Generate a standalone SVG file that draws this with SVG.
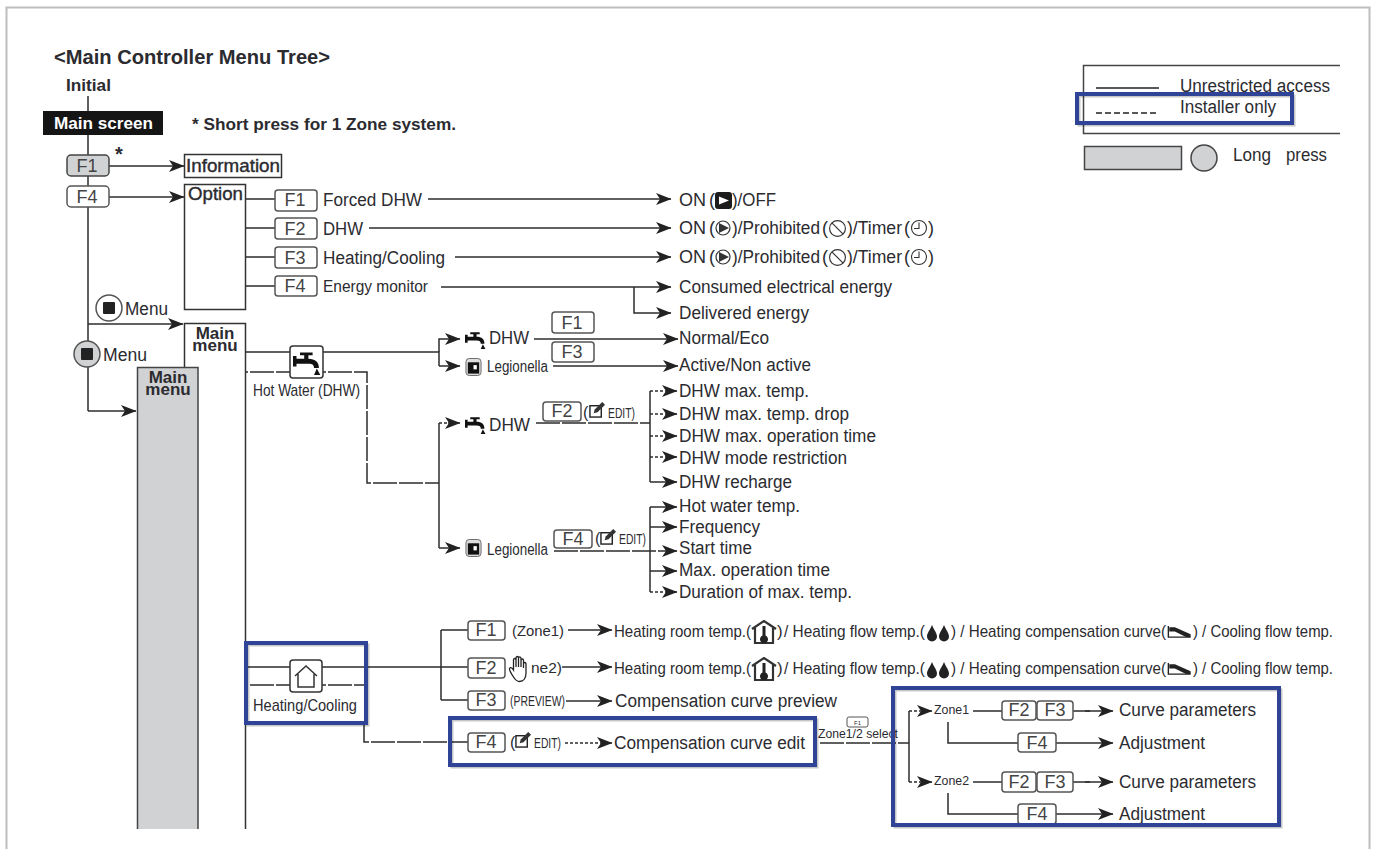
<svg xmlns="http://www.w3.org/2000/svg" width="1373" height="849" viewBox="0 0 1373 849">
<style>
text{font-family:"Liberation Sans",Arial,sans-serif;fill:#2b2b30;font-size:18px}
.b{font-weight:bold}
.n{font-size:16px}
.k{font-size:18px;text-anchor:middle;fill:#444}
.l{fill:none;stroke:#2c2c2c;stroke-width:1.500}
.a{marker-end:url(#arr)}
.d{stroke-dasharray:24 2}
.o{stroke-dasharray:3 2}
.btn{fill:#fff;stroke:#555;stroke-width:1.500}
.box{fill:#fff;stroke:#333;stroke-width:1.500}
.grey{fill:#d1d2d4;stroke:#444;stroke-width:1.500}
.blue{fill:none;stroke:#2f4496;stroke-width:4}
.sh{fill:none;stroke:#000;stroke-opacity:.22;stroke-width:3}
</style>
<defs>
<marker id="arr" markerUnits="userSpaceOnUse" markerWidth="17" markerHeight="13" viewBox="0 0 17 13" refX="16" refY="6.500" orient="auto"><path d="M1 .5L16.500 6.500L1 12.500L5 6.500Z" fill="#222"/></marker>
<symbol id="faucet" viewBox="0 0 20 17"><path d="M0 3.500h2.500v2H8V3H5V1h9v2h-3v2.500c5 0 7.500 2.500 7.500 6.500h-3.500c0-2-1-3-4-3H2.500v2H0Z M17 12.500l2.500 4.500h-4.500Z" fill="#111"/></symbol>
<symbol id="tank" viewBox="0 0 18 20"><rect x="1" y="1" width="16" height="18" rx="3.500" fill="#ddd" stroke="#666"/><path d="M3 5h12v12H3Z" fill="#111"/><path d="M9 8h3.500v4.500H9Z" fill="#fff"/></symbol>
<symbol id="edit" viewBox="0 0 18 18"><rect x="1" y="5" width="12" height="12" fill="#fff" stroke="#222" stroke-width="1.500"/><path d="M5 13l1-4 8-8 3 3-8 8Z" fill="#333"/></symbol>
<symbol id="play" viewBox="0 0 16 16"><circle cx="8" cy="8" r="7" fill="#fff" stroke="#333" stroke-width="1.200"/><path d="M4 3L14 8L4 13Z" fill="#333"/></symbol>
<symbol id="ban" viewBox="0 0 18 18"><circle cx="9" cy="9" r="7.500" fill="#fff" stroke="#333" stroke-width="1.100"/><path d="M3.700 3.700L14.300 14.300" stroke="#333" stroke-width="1.100"/></symbol>
<symbol id="clock" viewBox="0 0 18 18"><circle cx="9" cy="9" r="7.500" fill="#fff" stroke="#333" stroke-width="1.100"/><path d="M9 3.500V9.500H4" fill="none" stroke="#333" stroke-width="1.100"/></symbol>
<symbol id="thermo" viewBox="0 0 26 24"><path d="M1 9L13 1L25 9M4 8V23H22V8" fill="none" stroke="#333" stroke-width="2.200"/><path d="M11.500 6h3v9.500a4 4 0 1 1-3 0Z" fill="#222"/></symbol>
<symbol id="drops" viewBox="0 0 24 18"><path d="M6 1C8 6 11 9 11 12.500A5 5 0 0 1 1 12.500C1 9 4 6 6 1Z M18 1C20 6 23 9 23 12.500A5 5 0 0 1 13 12.500C13 9 16 6 18 1Z" fill="#222"/></symbol>
<symbol id="curve" viewBox="0 0 26 14"><path d="M1 1V13H25" fill="none" stroke="#222" stroke-width="1.500"/><path d="M2 2.500H8L25 10V13H20L8 7H2Z" fill="#222"/></symbol>
<symbol id="hand" viewBox="0 0 22 28"><path d="M5 22C3 19 1 16 1 14S3 12 5 15V5C5 3 7.500 3 7.500 5V12V3C7.500 1 10 1 10 3V12V3C10 1.500 12.500 1.500 12.500 3.500V12V5.500C12.500 3.500 15 3.500 15 5.500V13V9C15 7 17.500 7 17.500 9V18C17.500 23 15 26.500 11 26.500C8 26.500 6.500 24.500 5 22Z" fill="#fff" stroke="#222" stroke-width="1.300"/></symbol>
</defs>
<rect width="1373" height="849" fill="#fff"/>
<path d="M6.500 849V7.500H1369.500V849" fill="none" stroke="#bdbdbd" stroke-width="2"/>

<g id="connectors">
<path class="l" d="M88 96V411"/>
<path class="l a" d="M109 166H184"/>
<path class="l a" d="M109 197H184"/>
<path class="l a" d="M88 324H183"/>
<path class="l a" d="M88 411H136"/>
<path class="l" d="M246 199H275M246 228H275M246 257H275M246 286H275"/>
<path class="l a" d="M428 199H671"/>
<path class="l a" d="M369 228H671"/>
<path class="l a" d="M455 257H671"/>
<path class="l a" d="M441 287H671"/>
<path class="l a" d="M634 287V313H671"/>
<path class="l" d="M246 352H439V366"/>
<path class="l a" d="M439 352V339H460"/>
<path class="l a" d="M439 366H460"/>
<path class="l a" d="M534 339H678"/>
<path class="l a" d="M553 366H678"/>
<path class="l d" d="M198 372H367V483H439"/>
<path class="l" d="M439 423V548"/>
<path class="l o" d="M439 423H448"/>
<path class="l a" d="M448 423H460"/>
<path class="l a" d="M439 548H460"/>
<path class="l d" d="M536 423H650"/>
<path class="l" d="M650 391V482"/>
<path class="l o a" d="M650 391H677"/>
<path class="l o a" d="M650 414H677"/>
<path class="l o a" d="M650 436H677"/>
<path class="l o a" d="M650 457H677"/>
<path class="l a" d="M650 482H677"/>
<path class="l d a" d="M554 551H677"/>
<path class="l" d="M650 507V592"/>
<path class="l a" d="M650 507H677"/>
<path class="l a" d="M650 527H677"/>
<path class="l a" d="M650 571H677"/>
<path class="l o a" d="M650 592H677"/>
<path class="l" d="M246 667H468M441 630V700M441 630H468M441 700H468"/>
<path class="l d" d="M198 685H366"/>
<path class="l d" d="M364 723V742H468"/>
<path class="l a" d="M568 630H612"/>
<path class="l a" d="M562 667H612"/>
<path class="l a" d="M566 701H612"/>
<path class="l o a" d="M565 743H612"/>
<path class="l d" d="M820 743H909"/>
<path class="l" d="M909 711V782"/>
<path class="l o a" d="M909 711H932"/>
<path class="l o a" d="M909 782H932"/>
<path class="l" d="M973 711H1002M1073 711H1090"/>
<path class="l a" d="M1085 711H1113"/>
<path class="l" d="M948 722V743H1018"/>
<path class="l a" d="M1056 743H1113"/>
<path class="l" d="M973 782H1002M1073 782H1090"/>
<path class="l a" d="M1085 782H1113"/>
<path class="l" d="M948 793V814H1018"/>
<path class="l a" d="M1056 814H1113"/>
</g>

<g id="title"><text class="b" x="54" y="64" style="font-size:20px" textLength="276" lengthAdjust="spacingAndGlyphs">&lt;Main Controller Menu Tree&gt;</text></g>
<g id="initial"><text class="b" x="66" y="91" style="font-size:17px" textLength="45" lengthAdjust="spacingAndGlyphs">Initial</text></g>
<g id="main-screen"><rect x="43" y="111" width="120" height="24" fill="#151515"/><text class="b" x="54" y="129" style="fill:#fff;font-size:17px" textLength="99" lengthAdjust="spacingAndGlyphs">Main screen</text></g>
<g id="short-note"><text class="b" x="192" y="130" style="font-size:17px" textLength="264" lengthAdjust="spacingAndGlyphs">* Short press for 1 Zone system.</text></g>
<g id="star"><text class="b" x="115" y="161" style="font-size:20px">*</text></g>
<g id="btn-main-f1"><rect class="grey" x="67" y="155" width="42" height="21" rx="4"/><text class="k" x="87" y="172">F1</text></g>
<g id="btn-main-f4"><rect class="btn" x="67" y="186" width="42" height="21" rx="4"/><text class="k" x="87" y="203">F4</text></g>
<g id="information"><rect class="box" x="184.500" y="154.500" width="97" height="23"/><text x="186" y="172" style="font-size:19px" textLength="94" lengthAdjust="spacingAndGlyphs" stroke="#2b2b30" stroke-width=".4">Information</text></g>
<g id="option"><rect class="box" x="184.500" y="184.500" width="61" height="125"/><text x="188" y="200" style="font-size:18px" textLength="55" lengthAdjust="spacingAndGlyphs" stroke="#2b2b30" stroke-width=".4">Option</text></g>

<g id="opt-f1"><rect class="btn" x="275" y="190" width="42" height="21" rx="3"/><text class="k" x="295" y="206">F1</text><text x="323" y="206" textLength="99" lengthAdjust="spacingAndGlyphs">Forced DHW</text></g>
<g id="opt-f2"><rect class="btn" x="275" y="218" width="42" height="21" rx="3"/><text class="k" x="295" y="235">F2</text><text x="323" y="235" textLength="40" lengthAdjust="spacingAndGlyphs">DHW</text></g>
<g id="opt-f3"><rect class="btn" x="275" y="247" width="42" height="21" rx="3"/><text class="k" x="295" y="264">F3</text><text x="323" y="264" textLength="122" lengthAdjust="spacingAndGlyphs">Heating/Cooling</text></g>
<g id="opt-f4"><rect class="btn" x="275" y="276" width="42" height="20" rx="3"/><text class="k" x="295" y="292">F4</text><text x="323" y="292" style="font-size:17px" textLength="105" lengthAdjust="spacingAndGlyphs">Energy monitor</text></g>

<g id="res-forced"><text x="679" y="206" textLength="27" lengthAdjust="spacingAndGlyphs">ON</text><text x="709" y="206">(</text><rect x="715" y="192" width="17" height="17" rx="3" fill="#1c1c1c"/><path d="M719 196.500L729 200.500L719 204.500Z" fill="#fff"/><text x="732" y="206" textLength="44" lengthAdjust="spacingAndGlyphs">)/OFF</text></g>
<g id="res-dhw"><text x="679" y="234" textLength="27" lengthAdjust="spacingAndGlyphs">ON</text><text x="709" y="234">(</text><use href="#play" x="715" y="220" width="16" height="16"/><text x="732" y="234" textLength="88" lengthAdjust="spacingAndGlyphs">)/Prohibited</text><text x="822" y="234">(</text><use href="#ban" x="828" y="219" width="19" height="19"/><text x="847" y="234" textLength="55" lengthAdjust="spacingAndGlyphs">)/Timer</text><text x="904" y="234">(</text><use href="#clock" x="910" y="219" width="18" height="18"/><text x="928" y="234">)</text></g>
<g id="res-hc"><text x="679" y="263" textLength="27" lengthAdjust="spacingAndGlyphs">ON</text><text x="709" y="263">(</text><use href="#play" x="715" y="249" width="16" height="16"/><text x="732" y="263" textLength="88" lengthAdjust="spacingAndGlyphs">)/Prohibited</text><text x="822" y="263">(</text><use href="#ban" x="828" y="248" width="19" height="19"/><text x="847" y="263" textLength="55" lengthAdjust="spacingAndGlyphs">)/Timer</text><text x="904" y="263">(</text><use href="#clock" x="910" y="248" width="18" height="18"/><text x="928" y="263">)</text></g>
<g id="res-consumed"><text x="679" y="293" textLength="213" lengthAdjust="spacingAndGlyphs">Consumed electrical energy</text></g>
<g id="res-delivered"><text x="679" y="319" textLength="130" lengthAdjust="spacingAndGlyphs">Delivered energy</text></g>

<g id="menu-1"><circle cx="109" cy="308" r="13" fill="#fff" stroke="#555" stroke-width="1.500"/><rect x="103" y="302" width="12" height="12" rx="1" fill="#222"/><text x="125" y="315" textLength="43" lengthAdjust="spacingAndGlyphs">Menu</text></g>
<g id="main-menu"><path class="box" d="M184.500 829V323.500H245.500V829" fill="none"/><text class="b" x="215" y="339" text-anchor="middle" style="font-size:17px">Main</text><text class="b" x="215" y="351" text-anchor="middle" style="font-size:17px">menu</text></g>
<g id="main-menu-long"><path class="grey" d="M137.500 829V367.500H198V829"/><text class="b" x="168" y="383" text-anchor="middle" style="font-size:17px">Main</text><text class="b" x="168" y="395" text-anchor="middle" style="font-size:17px">menu</text></g>
<g id="menu-2"><circle cx="87" cy="354" r="13" fill="#d1d2d4" stroke="#555" stroke-width="1.500"/><rect x="81" y="348" width="12" height="12" rx="1" fill="#222"/><text x="103" y="361" textLength="44" lengthAdjust="spacingAndGlyphs">Menu</text></g>

<g id="hot-water"><rect class="btn" x="290" y="346" width="33" height="32" rx="3" style="stroke:#333"/><use href="#faucet" x="293" y="351" width="28" height="24"/><text x="253" y="396" style="font-size:17px" textLength="107" lengthAdjust="spacingAndGlyphs">Hot Water (DHW)</text></g>

<g id="dhw-top"><use href="#faucet" x="465" y="331" width="21" height="18"/><text x="489" y="344" textLength="40" lengthAdjust="spacingAndGlyphs">DHW</text></g>
<g id="leg-top"><use href="#tank" x="465" y="357" width="17" height="20"/><text class="n" x="487" y="372" textLength="61" lengthAdjust="spacingAndGlyphs">Legionella</text></g>
<g id="btn-top-f1"><rect class="btn" x="552" y="312" width="42" height="21" rx="3"/><text class="k" x="572" y="329">F1</text></g>
<g id="btn-top-f3"><rect class="btn" x="552" y="342" width="42" height="20" rx="3"/><text class="k" x="572" y="358">F3</text></g>
<g id="res-normal"><text x="679" y="344" textLength="90" lengthAdjust="spacingAndGlyphs">Normal/Eco</text></g>
<g id="res-active"><text x="679" y="371" textLength="132" lengthAdjust="spacingAndGlyphs">Active/Non active</text></g>

<g id="dhw-edit"><use href="#faucet" x="465" y="416" width="21" height="18"/><text x="489" y="431" textLength="41" lengthAdjust="spacingAndGlyphs">DHW</text></g>
<g id="btn-f2-edit"><rect class="btn" x="543" y="402" width="38" height="19" rx="3"/><text class="k" x="562" y="417">F2</text><text class="n" x="583" y="418">(</text><use href="#edit" x="589" y="401" width="17" height="17"/><text x="608" y="418" style="font-size:14px" textLength="27" lengthAdjust="spacingAndGlyphs">EDIT)</text></g>
<g id="dhw-items">
<text x="679" y="397" textLength="130" lengthAdjust="spacingAndGlyphs">DHW max. temp.</text>
<text x="679" y="420" textLength="170" lengthAdjust="spacingAndGlyphs">DHW max. temp. drop</text>
<text x="679" y="442" textLength="197" lengthAdjust="spacingAndGlyphs">DHW max. operation time</text>
<text x="679" y="464" textLength="168" lengthAdjust="spacingAndGlyphs">DHW mode restriction</text>
<text x="679" y="488" textLength="113" lengthAdjust="spacingAndGlyphs">DHW recharge</text>
</g>
<g id="leg-edit"><use href="#tank" x="465" y="538" width="17" height="20"/><text class="n" x="487" y="555" textLength="61" lengthAdjust="spacingAndGlyphs">Legionella</text></g>
<g id="btn-f4-edit"><rect class="btn" x="554" y="530" width="38" height="18" rx="3"/><text class="k" x="573" y="545">F4</text><text class="n" x="595" y="544">(</text><use href="#edit" x="600" y="528" width="17" height="17"/><text x="619" y="544" style="font-size:14px" textLength="27" lengthAdjust="spacingAndGlyphs">EDIT)</text></g>
<g id="leg-items">
<text x="679" y="512" textLength="121" lengthAdjust="spacingAndGlyphs">Hot water temp.</text>
<text x="679" y="533" textLength="81" lengthAdjust="spacingAndGlyphs">Frequency</text>
<text x="679" y="554" textLength="73" lengthAdjust="spacingAndGlyphs">Start time</text>
<text x="679" y="576" textLength="151" lengthAdjust="spacingAndGlyphs">Max. operation time</text>
<text x="679" y="598" textLength="173" lengthAdjust="spacingAndGlyphs">Duration of max. temp.</text>
</g>

<g id="heating-cooling"><rect class="btn" x="290" y="660" width="32" height="32" rx="3" style="stroke:#333"/><path d="M295 676L306 666L317 676M298 674V687H314V674" fill="none" stroke="#333" stroke-width="1.500"/><text x="253" y="711" style="font-size:17px" textLength="104" lengthAdjust="spacingAndGlyphs">Heating/Cooling</text></g>

<g id="hc-f1"><rect class="btn" x="468" y="621" width="37" height="19" rx="3"/><text class="k" x="486" y="636">F1</text><text x="512" y="636" style="font-size:15px" textLength="52" lengthAdjust="spacingAndGlyphs">(Zone1)</text>
<text x="614" y="637" style="font-size:17px" textLength="137" lengthAdjust="spacingAndGlyphs">Heating room temp.(</text><use href="#thermo" x="751" y="620" width="26" height="24"/><text x="777" y="637" style="font-size:17px">)</text><text x="784" y="637" style="font-size:17px" textLength="141" lengthAdjust="spacingAndGlyphs">/ Heating flow temp.(</text><use href="#drops" x="926" y="624" width="24" height="18"/><text x="951" y="637" style="font-size:17px" textLength="215" lengthAdjust="spacingAndGlyphs">) / Heating compensation curve(</text><use href="#curve" x="1167" y="625" width="25" height="13"/><text x="1193" y="637" style="font-size:17px" textLength="140" lengthAdjust="spacingAndGlyphs">) / Cooling flow temp.</text></g>
<g id="hc-f2"><rect class="btn" x="468" y="658" width="37" height="20" rx="3"/><text class="k" x="486" y="674">F2</text><text x="531" y="673" style="font-size:15px" textLength="31" lengthAdjust="spacingAndGlyphs">ne2)</text><use href="#hand" x="508" y="655" width="23" height="28"/>
<text x="614" y="674" style="font-size:17px" textLength="137" lengthAdjust="spacingAndGlyphs">Heating room temp.(</text><use href="#thermo" x="751" y="657" width="26" height="24"/><text x="777" y="674" style="font-size:17px">)</text><text x="784" y="674" style="font-size:17px" textLength="141" lengthAdjust="spacingAndGlyphs">/ Heating flow temp.(</text><use href="#drops" x="926" y="661" width="24" height="18"/><text x="951" y="674" style="font-size:17px" textLength="215" lengthAdjust="spacingAndGlyphs">) / Heating compensation curve(</text><use href="#curve" x="1167" y="662" width="25" height="13"/><text x="1193" y="674" style="font-size:17px" textLength="140" lengthAdjust="spacingAndGlyphs">) / Cooling flow temp.</text></g>
<g id="hc-f3"><rect class="btn" x="468" y="691" width="37" height="19" rx="3"/><text class="k" x="486" y="706">F3</text><text x="510" y="706" style="font-size:14px" textLength="55" lengthAdjust="spacingAndGlyphs">(PREVIEW)</text><text x="615" y="707" textLength="222" lengthAdjust="spacingAndGlyphs">Compensation curve preview</text></g>
<g id="hc-f4"><rect class="btn" x="468" y="733" width="37" height="19" rx="3"/><text class="k" x="486" y="748">F4</text><text class="n" x="510" y="748">(</text><use href="#edit" x="515" y="731" width="17" height="17"/><text x="534" y="748" style="font-size:14px" textLength="27" lengthAdjust="spacingAndGlyphs">EDIT)</text><text x="614" y="749" textLength="191" lengthAdjust="spacingAndGlyphs">Compensation curve edit</text></g>

<g id="zone-select"><rect class="btn" x="847" y="717" width="21" height="10" rx="2" style="stroke-width:1"/><text x="857.500" y="725" text-anchor="middle" style="font-size:6px">F1</text><text x="818" y="738" style="font-size:12px" textLength="80" lengthAdjust="spacingAndGlyphs">Zone1/2 select</text></g>

<g id="zone1"><text x="934" y="714" style="font-size:12px" textLength="35" lengthAdjust="spacingAndGlyphs">Zone1</text><rect class="btn" x="1002" y="701" width="34" height="19" rx="3"/><text class="k" x="1019" y="716">F2</text><rect class="btn" x="1037" y="701" width="36" height="19" rx="3"/><text class="k" x="1055" y="716">F3</text><text x="1119" y="716" textLength="137" lengthAdjust="spacingAndGlyphs">Curve parameters</text><rect class="btn" x="1018" y="733" width="38" height="19" rx="3"/><text class="k" x="1037" y="749">F4</text><text x="1119" y="749" textLength="86" lengthAdjust="spacingAndGlyphs">Adjustment</text></g>
<g id="zone2"><text x="934" y="785" style="font-size:12px" textLength="35" lengthAdjust="spacingAndGlyphs">Zone2</text><rect class="btn" x="1002" y="772" width="34" height="20" rx="3"/><text class="k" x="1019" y="788">F2</text><rect class="btn" x="1037" y="772" width="36" height="20" rx="3"/><text class="k" x="1055" y="788">F3</text><text x="1119" y="788" textLength="137" lengthAdjust="spacingAndGlyphs">Curve parameters</text><rect class="btn" x="1018" y="804" width="38" height="20" rx="3"/><text class="k" x="1037" y="820">F4</text><text x="1119" y="820" textLength="86" lengthAdjust="spacingAndGlyphs">Adjustment</text></g>

<g id="legend"><path d="M1340 65.500H1083.500V133.500H1340" fill="none" stroke="#444" stroke-width="1.500"/><path d="M1096 88H1159" stroke="#222" stroke-width="1.300"/><text x="1180" y="92" textLength="150" lengthAdjust="spacingAndGlyphs">Unrestricted access</text><path d="M1096 113H1159" stroke="#222" stroke-width="1.300" stroke-dasharray="6 3"/><text x="1180" y="113" textLength="96" lengthAdjust="spacingAndGlyphs">Installer only</text><rect class="grey" x="1084.500" y="146.500" width="97" height="23"/><circle cx="1204" cy="158" r="13" fill="#d1d2d4" stroke="#444" stroke-width="1.500"/><text x="1233" y="161" textLength="38" lengthAdjust="spacingAndGlyphs">Long</text><text x="1286" y="161" textLength="41" lengthAdjust="spacingAndGlyphs">press</text></g>

<g id="highlights">
<rect class="sh" x="1079" y="96" width="215" height="29"/><rect class="blue" x="1077" y="94" width="215" height="29"/>
<rect class="sh" x="248" y="645" width="120" height="80"/><rect class="blue" x="246" y="643" width="120" height="80"/>
<rect class="sh" x="452" y="720" width="365" height="47"/><rect class="blue" x="450" y="718" width="365" height="47"/>
<rect class="sh" x="895" y="690" width="386" height="137"/><rect class="blue" x="893" y="688" width="386" height="137"/>
</g>
</svg>
